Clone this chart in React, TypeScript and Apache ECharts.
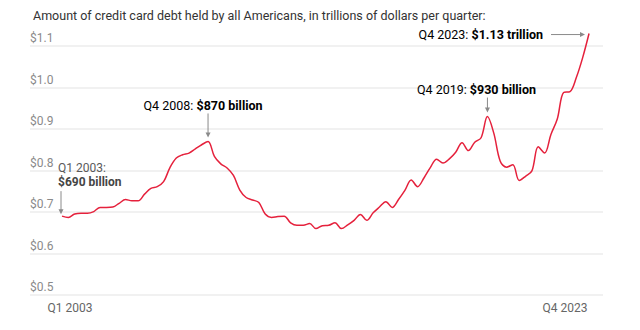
import { useEffect, useRef } from "react";
import * as echarts from "echarts";

const chartTitle =
  "Amount of credit card debt held by all Americans, in trillions of dollars per quarter:";

// First and last quarter shown on the horizontal axis
const quarterLabels = ["Q1 2003", "Q4 2023"];

// Credit card balances, trillions of dollars, one value per quarter (Q1 2003 .. Q4 2023)
const debt = [
  0.69, 0.687, 0.695, 0.697,
  0.697, 0.701, 0.711, 0.711,
  0.712, 0.721, 0.73, 0.727,
  0.727, 0.743, 0.757, 0.761,
  0.773, 0.807, 0.83, 0.838,
  0.842, 0.852, 0.862, 0.87,
  0.834, 0.816, 0.806, 0.788,
  0.753, 0.735, 0.729, 0.723,
  0.695, 0.687, 0.689, 0.69,
  0.674, 0.668, 0.668, 0.672,
  0.66, 0.667, 0.668, 0.674,
  0.66, 0.669, 0.68, 0.694,
  0.68, 0.698, 0.712, 0.725,
  0.711, 0.73, 0.752, 0.777,
  0.761, 0.782, 0.807, 0.827,
  0.818, 0.828, 0.844, 0.867,
  0.848, 0.868, 0.879, 0.93,
  0.89, 0.823, 0.808, 0.814,
  0.776, 0.786, 0.799, 0.857,
  0.842, 0.887, 0.924, 0.988,
  0.99, 1.024, 1.072, 1.13,
];

// Callouts: quarter index, lead text, bold value text
const noteIndex = [0, 23, 67, 83];
const noteLead = ["Q1 2003:", "Q4 2008: ", "Q4 2019: ", "Q4 2023: "];
const noteValue = ["$690 billion", "$870 billion", "$930 billion", "$1.13 trillion"];

const FONT = "Roboto, 'Noto Sans', sans-serif";
const RED = "#e5213c";
const ARROW = "#8a8a8a";
const LEAD_COLOR = "#5a5a5a";
const VALUE_COLOR = "#454545";

function downArrow(x: number, y1: number, y2: number) {
  return [
    { type: "line", shape: { x1: x, y1, x2: x, y2: y2 - 4 }, style: { stroke: ARROW, lineWidth: 1 } },
    {
      type: "polygon",
      shape: { points: [[x - 2.5, y2 - 5], [x + 2.5, y2 - 5], [x, y2]] },
      style: { fill: ARROW },
    },
  ];
}

function rightArrow(x1: number, x2: number, y: number) {
  return [
    { type: "line", shape: { x1, y1: y, x2: x2 - 4, y2: y }, style: { stroke: ARROW, lineWidth: 1 } },
    {
      type: "polygon",
      shape: { points: [[x2 - 5, y - 2.5], [x2 - 5, y + 2.5], [x2, y]] },
      style: { fill: ARROW },
    },
  ];
}

const rich = {
  a: { fontFamily: FONT, fontSize: 12.5, color: LEAD_COLOR },
  b: { fontFamily: FONT, fontSize: 12.5, fontWeight: "bold", color: VALUE_COLOR },
};

export default function App() {
  const ref = useRef<HTMLDivElement>(null);

  useEffect(() => {
    if (!ref.current) return;
    const chart = echarts.init(ref.current, null, { renderer: "svg" });
    const points = debt.map((v, i) => [i, v]);

    chart.setOption({
      animation: false,
      title: {
        text: chartTitle,
        left: 28,
        top: 4,
        textStyle: { fontFamily: FONT, fontSize: 12.5, fontWeight: "normal", color: "#333" },
      },
      grid: { left: 30, right: 37, top: 46, bottom: 35 },
      xAxis: {
        type: "value",
        min: -5.04,
        max: 85.2,
        axisLine: { show: false },
        axisTick: { show: false },
        splitLine: { show: false },
        axisLabel: {
          customValues: [0, debt.length - 1],
          margin: 7,
          formatter: (v: number) =>
            v === 0 ? `{l|${quarterLabels[0]}}` : `{r|${quarterLabels[1]}}`,
          rich: {
            l: { fontFamily: FONT, fontSize: 12, color: "#666", padding: [0, 0, 0, 16] },
            r: { fontFamily: FONT, fontSize: 12, color: "#666", padding: [0, 48, 0, 0] },
          },
        },
      },
      yAxis: {
        type: "value",
        min: 0.5,
        max: 1.1,
        interval: 0.1,
        axisLine: { show: false },
        axisTick: { show: false },
        splitLine: { lineStyle: { color: "#ececec", width: 1.5 } },
        axisLabel: {
          inside: true,
          margin: 0,
          verticalAlign: "bottom",
          padding: [0, 0, 2, 0],
          fontFamily: FONT,
          fontSize: 12,
          color: "#8a8a8a",
          formatter: (v: number) => "$" + v.toFixed(1),
        },
      },
      series: [
        {
          type: "line",
          data: points,
          smooth: 0.35,
          clip: false,
          showSymbol: false,
          lineStyle: { color: RED, width: 1.5 },
        },
      ],
    });

    const px = noteIndex.map((i) => chart.convertToPixel({ gridIndex: 0 }, [i, debt[i]]) as number[]);
    const graphic: any[] = [];

    // Q1 2003: two stacked lines above a down arrow
    {
      const [x, y] = px[0];
      graphic.push({
        type: "text",
        x: x - 4,
        y: y - 48,
        style: {
          text: noteLead[0],
          fontFamily: FONT,
          fontSize: 12,
          fill: LEAD_COLOR,
          verticalAlign: "middle",
        },
      });
      graphic.push({
        type: "text",
        x: x - 4,
        y: y - 34,
        style: {
          text: noteValue[0],
          fontFamily: FONT,
          fontSize: 12,
          fontWeight: "bold",
          fill: VALUE_COLOR,
          verticalAlign: "middle",
        },
      });
      graphic.push(...downArrow(x - 1, y - 25, y - 2));
    }
    // Q4 2008 and Q4 2019: one-line callouts above down arrows
    for (const [k, shift, gap] of [[1, -5, 36], [2, -11, 27]] as number[][]) {
      const [x, y] = px[k];
      graphic.push({
        type: "text",
        x: x + shift,
        y: y - gap,
        style: {
          text: `{a|${noteLead[k]}}{b|${noteValue[k]}}`,
          rich,
          align: "center",
          verticalAlign: "middle",
        },
      });
      graphic.push(...downArrow(x, y - gap + 8, y - 4));
    }
    // Q4 2023: callout to the left with a horizontal arrow
    {
      const [x, y] = px[3];
      graphic.push({
        type: "text",
        x: x - 46,
        y: y + 1,
        style: {
          text: `{a|${noteLead[3]}}{b|${noteValue[3]}}`,
          rich,
          align: "right",
          verticalAlign: "middle",
        },
      });
      graphic.push(...rightArrow(x - 38, x - 4, y + 1));
    }
    chart.setOption({ graphic });

    return () => chart.dispose();
  }, []);

  return (
    <div
      ref={ref}
      style={{ position: "fixed", left: 0, top: 0, width: 640, height: 330, background: "#fff" }}
    />
  );
}
